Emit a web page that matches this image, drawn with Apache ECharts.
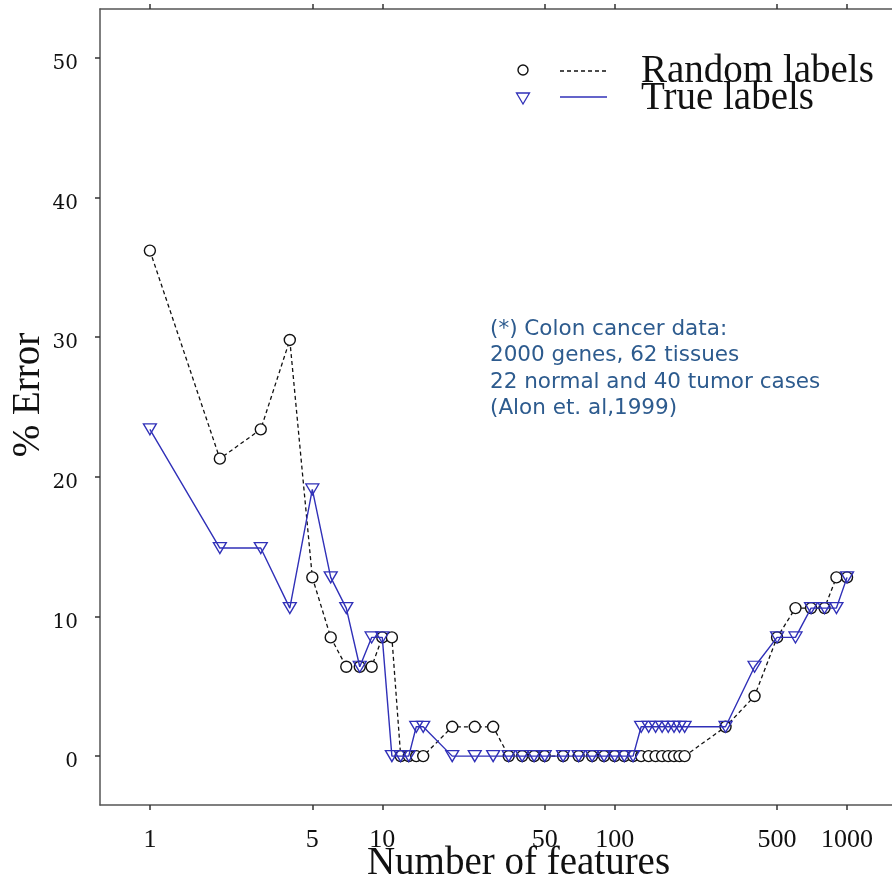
<!DOCTYPE html>
<html>
<head>
<meta charset="utf-8">
<script src="https://cdn.jsdelivr.net/npm/echarts@6/dist/echarts.min.js"></script>
<style>
    html, body { margin: 0; padding: 0; background: #fff; }
    #chart { width: 892px; height: 874px; }
</style>
</head>
<body>
<div id="chart"></div>
<script>
// number of features (x) and % error (y)
var featRandom = [1, 2, 3, 4, 5, 6, 7, 8, 9, 10, 11, 12, 13, 14, 15, 20, 25, 30, 35, 40, 45, 50, 60, 70, 80, 90, 100, 110, 120,
    130, 140, 150, 160, 170, 180, 190, 200, 300, 400, 500, 600, 700, 800, 900, 1000];
var errRandom = [36.2, 21.3, 23.4, 29.8, 12.8, 8.5, 6.4, 6.4, 6.4, 8.5, 8.5, 0, 0, 0, 0, 2.1, 2.1, 2.1, 0, 0, 0, 0, 0, 0, 0, 0, 0, 0, 0,
    0, 0, 0, 0, 0, 0, 0, 0, 2.1, 4.3, 8.5, 10.6, 10.6, 10.6, 12.8, 12.8];
var featTrue = [1, 2, 3, 4, 5, 6, 7, 8, 9, 10, 11, 12, 13, 14, 15, 20, 25, 30, 35, 40, 45, 50, 60, 70, 80, 90, 100, 110, 120,
    130, 140, 150, 160, 170, 180, 190, 200, 300, 400, 500, 600, 700, 800, 900, 1000];
var errTrue = [23.4, 14.9, 14.9, 10.6, 19.1, 12.8, 10.6, 6.4, 8.5, 8.5, 0, 0, 0, 2.1, 2.1, 0, 0, 0, 0, 0, 0, 0, 0, 0, 0, 0, 0, 0, 0,
    2.1, 2.1, 2.1, 2.1, 2.1, 2.1, 2.1, 2.1, 2.1, 6.4, 8.5, 8.5, 10.6, 10.6, 10.6, 12.8];
var xTicks = [1, 5, 10, 50, 100, 500, 1000];
var yTicks = [0, 10, 20, 30, 40, 50];
var noteLines = ['(*) Colon cancer data:', '2000 genes, 62 tissues', '22 normal and 40 tumor cases', '(Alon et. al,1999)'];

var chart = echarts.init(document.getElementById('chart'));

var pairs = function(xs, ys) {
    var out = [];
    for (var i = 0; i < xs.length; i++) {
        out.push([xs[i], ys[i]]);
    }
    return out;
};

var axisGray = '#555';
var blue = '#3030b8';
var serif = 'Liberation Serif';

var logAxis = function(pos) {
    return {
        type: 'log',
        position: pos,
        min: 0.61,
        max: 2000,
        axisLine: { show: true, onZero: false, lineStyle: { color: axisGray, width: 1.5 } },
        axisTick: { show: true, inside: false, length: 5, customValues: xTicks, lineStyle: { color: '#333', width: 1.5 } },
        axisLabel: {
            show: pos === 'bottom',
            customValues: xTicks,
            formatter: function(v) { return String(Math.round(v)); },
            margin: 22,
            fontFamily: serif,
            fontSize: 26,
            color: '#111'
        },
        splitLine: { show: false },
        minorTick: { show: false }
    };
};

var xBottom = logAxis('bottom');
xBottom.name = 'Number of features';
xBottom.nameLocation = 'middle';
xBottom.nameGap = 39;
xBottom.nameMoveOverlap = false;
xBottom.nameTextStyle = { fontFamily: serif, fontSize: 39, color: '#111', padding: [0, 0, 0, 20] };
var xTop = logAxis('top');

var option = {
    animation: false,
    backgroundColor: '#fff',
    grid: { left: 100, top: 9, bottom: 69, right: -25, containLabel: false, outerBoundsMode: 'none' },
    xAxis: [xBottom, xTop],
    yAxis: {
        type: 'value',
        min: -3.5,
        max: 53.5,
        name: '% Error',
        nameLocation: 'middle',
        nameGap: 52,
        nameMoveOverlap: false,
        nameRotate: 90,
        nameTextStyle: { fontFamily: serif, fontSize: 39, color: '#111', padding: [0, 0, 0, 24] },
        axisLine: { show: true, onZero: false, lineStyle: { color: axisGray, width: 1.5 } },
        axisTick: { show: true, inside: false, length: 5, customValues: yTicks, lineStyle: { color: '#333', width: 1.5 } },
        axisLabel: {
            customValues: yTicks,
            margin: 22,
            formatter: function(v) { return '{v|' + v + '}'; },
            rich: {
                v: { fontFamily: 'DejaVu Serif', fontSize: 20, color: '#111', padding: [12, 0, 0, 0] }
            }
        },
        splitLine: { show: false }
    },
    series: [{
        name: 'Random labels',
        type: 'line',
        data: pairs(featRandom, errRandom),
        symbol: 'circle',
        symbolSize: 11,
        showSymbol: true,
        itemStyle: { color: '#fff', borderColor: '#111', borderWidth: 1.4 },
        lineStyle: { color: '#111', width: 1.3, type: [4, 3] },
        z: 2
    }, {
        name: 'True labels',
        type: 'line',
        data: pairs(featTrue, errTrue),
        symbol: 'triangle',
        symbolRotate: 180,
        symbolSize: [13, 11],
        showSymbol: true,
        itemStyle: { color: 'rgba(255,255,255,0)', borderColor: blue, borderWidth: 1.3 },
        lineStyle: { color: blue, width: 1.4 },
        z: 3
    }],
    graphic: [{
        type: 'circle',
        shape: { cx: 523, cy: 70, r: 5 },
        style: { fill: '#fff', stroke: '#111', lineWidth: 1.4 }
    }, {
        type: 'line',
        shape: { x1: 560, y1: 71, x2: 607, y2: 71 },
        style: { stroke: '#111', lineWidth: 1.3, lineDash: [4, 3] }
    }, {
        type: 'polygon',
        shape: { points: [[516.5, 93], [529.5, 93], [523, 104]] },
        style: { fill: 'none', stroke: blue, lineWidth: 1.3 }
    }, {
        type: 'line',
        shape: { x1: 560, y1: 97, x2: 607, y2: 97 },
        style: { stroke: blue, lineWidth: 1.4 }
    }, {
        type: 'text',
        left: 641,
        top: 52,
        style: { text: 'Random labels', fontFamily: serif, fontSize: 39, fill: '#111' }
    }, {
        type: 'text',
        left: 641,
        top: 79,
        style: { text: 'True labels', fontFamily: serif, fontSize: 39, fill: '#111' }
    }, {
        type: 'text',
        left: 490,
        top: 316,
        style: {
            text: noteLines.join('\n'),
            fontFamily: 'DejaVu Sans',
            fontSize: 21.5,
            lineHeight: 26.5,
            fill: '#2d5b8e'
        }
    }]
};

chart.setOption(option);
</script>
</body>
</html>
